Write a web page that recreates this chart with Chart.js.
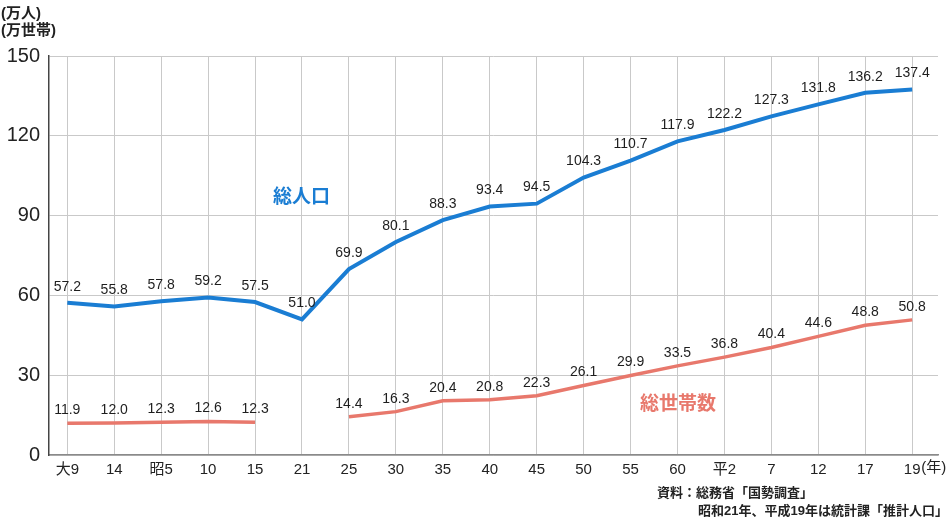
<!DOCTYPE html>
<html lang="ja">
<head>
<meta charset="utf-8">
<title>総人口・総世帯数の推移</title>
<script src="https://cdn.jsdelivr.net/npm/chart.js@4"></script>
<style>
  html, body { margin: 0; padding: 0; background: #fff; }
  .wrap { position: relative; width: 952px; height: 518px; }
</style>
</head>
<body>
<div class="wrap"><canvas id="chart"></canvas></div>
<script>
// 年次（大正・昭和・平成）
const years = ['大9', '14', '昭5', '10', '15', '21', '25', '30', '35', '40', '45', '50', '55', '60', '平2', '7', '12', '17', '19'];
// 総人口（万人）
const population = [57.2, 55.8, 57.8, 59.2, 57.5, 51.0, 69.9, 80.1, 88.3, 93.4, 94.5, 104.3, 110.7, 117.9, 122.2, 127.3, 131.8, 136.2, 137.4];
// 総世帯数（万世帯）、昭和21年はなし
const households = [11.9, 12.0, 12.3, 12.6, 12.3, null, 14.4, 16.3, 20.4, 20.8, 22.3, 26.1, 29.9, 33.5, 36.8, 40.4, 44.6, 48.8, 50.8];
const yTicks = [0, 30, 60, 90, 120, 150];

const FONT = '"Liberation Sans", "Noto Sans CJK JP", sans-serif';
const BLUE = '#1a7dd3';
const SALMON = '#e8786c';

const toPoints = arr => arr.map((v, i) => ({ x: i, y: v }));

// 各点の上に数値を描く
const valueLabels = {
  id: 'valueLabels',
  afterDatasetsDraw(chart) {
    const c = chart.ctx;
    c.save();
    c.font = '14px ' + FONT;
    c.fillStyle = '#1e1e1e';
    c.textAlign = 'center';
    c.textBaseline = 'middle';
    chart.data.datasets.forEach((ds, di) => {
      const meta = chart.getDatasetMeta(di);
      const off = ds.labelOffset;
      meta.data.forEach((pt, i) => {
        const v = ds.data[i].y;
        if (v == null) return;
        c.fillText(v.toFixed(1), pt.x, pt.y - off);
      });
    });
    c.restore();
  }
};

// 単位・系列名・出典などの文字
const notes = {
  id: 'notes',
  afterDraw(chart) {
    const c = chart.ctx;
    const x = chart.scales.x;
    c.save();
    c.fillStyle = '#222';
    c.textBaseline = 'middle';
    c.textAlign = 'left';
    c.font = 'bold 15px ' + FONT;
    c.fillText('(万人)', 1, 14);
    c.fillText('(万世帯)', 1, 31);

    c.font = 'bold 19px ' + FONT;
    c.fillStyle = BLUE;
    c.fillText('総人口', 273, 198);
    c.fillStyle = SALMON;
    c.fillText('総世帯数', 640, 405);

    c.fillStyle = '#222';
    c.font = '15px ' + FONT;
    c.fillText('(年)', x.getPixelForValue(18) + 9, 468);

    c.font = 'bold 13px ' + FONT;
    c.fillText('資料：総務省「国勢調査」', 657, 493);
    c.fillText('昭和21年、平成19年は統計課「推計人口」', 698, 511);
    c.restore();
  }
};

new Chart(document.getElementById('chart'), {
  type: 'line',
  data: {
    datasets: [
      {
        label: '総人口',
        data: toPoints(population),
        borderColor: BLUE,
        borderWidth: 4,
        pointRadius: 0,
        tension: 0,
        labelOffset: 16,
      },
      {
        label: '総世帯数',
        data: toPoints(households),
        borderColor: SALMON,
        borderWidth: 3.5,
        pointRadius: 0,
        tension: 0,
        spanGaps: false,
        labelOffset: 13,
      }
    ]
  },
  options: {
    responsive: true,
    maintainAspectRatio: false,
    animation: false,
    layout: { padding: { top: 56, right: 14, left: 0, bottom: 0 } },
    plugins: { legend: { display: false }, tooltip: { enabled: false } },
    scales: {
      x: {
        type: 'linear',
        min: -0.39,
        max: 18.55,
        afterBuildTicks: s => { s.ticks = years.map((_, i) => ({ value: i })); },
        afterFit: s => { s.height = 63; },
        ticks: {
          autoSkip: false,
          maxRotation: 0,
          padding: 6,
          color: '#222',
          font: { family: FONT, size: 15 },
          callback: v => years[v],
        },
        grid: { color: '#c9c9c9', lineWidth: 1, drawTicks: false },
        border: { color: '#8a8a8a', width: 1.5 },
      },
      y: {
        min: 0,
        max: 150,
        afterBuildTicks: s => { s.ticks = yTicks.map(v => ({ value: v })); },
        afterFit: s => { s.width = 49; },
        ticks: {
          padding: 9,
          color: '#222',
          font: { family: FONT, size: 20 },
        },
        grid: { color: '#c9c9c9', lineWidth: 1, drawTicks: false },
        border: { color: '#444', width: 1.5 },
      }
    }
  },
  plugins: [valueLabels, notes]
});
</script>
</body>
</html>
